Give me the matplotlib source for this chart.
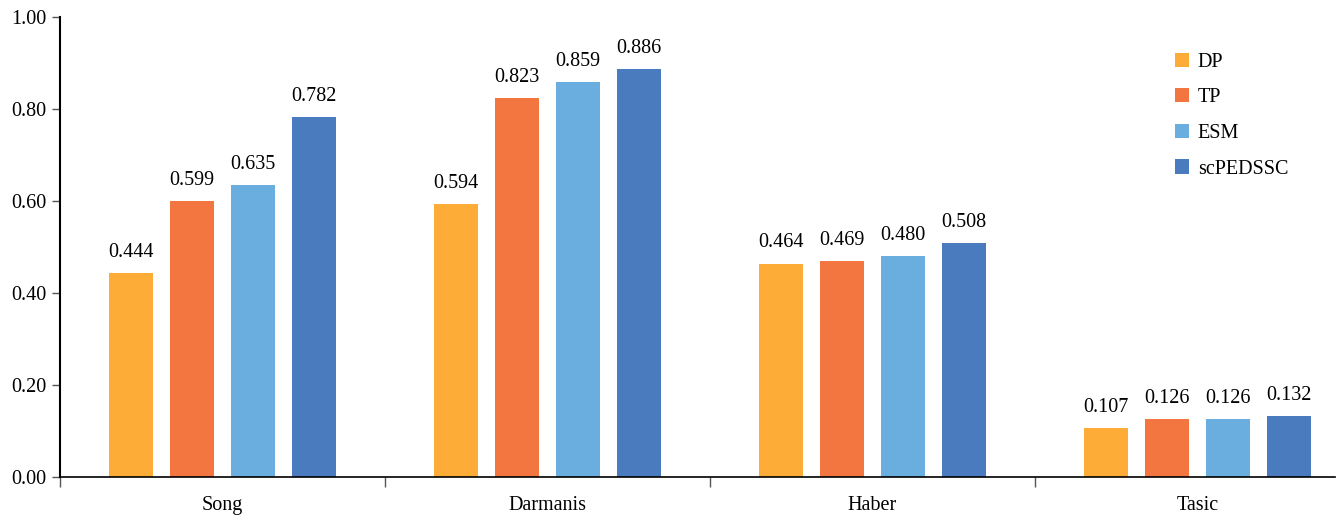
import matplotlib
matplotlib.use("Agg")
import matplotlib.pyplot as plt
import numpy as np
from matplotlib.ticker import FormatStrFormatter

datasets = ["Song", "Darmanis", "Haber", "Tasic"]
methods = ["DP", "TP", "ESM", "scPEDSSC"]
dp = [0.444, 0.594, 0.464, 0.107]
tp = [0.599, 0.823, 0.469, 0.126]
esm = [0.635, 0.859, 0.480, 0.126]
scpedssc = [0.782, 0.886, 0.508, 0.132]
colors = ["#FDAD37", "#F37540", "#6AAEDF", "#4A7BBF"]

plt.rcParams["font.family"] = ["Liberation Serif", "DejaVu Serif"]
FS = 14.5

fig = plt.figure(figsize=(13.4, 5.15), dpi=100)
ax = fig.add_axes([60 / 1340, 38 / 515, 1275 / 1340, 460 / 515])

x = np.arange(len(datasets))
step, width = 0.188, 0.135
for i, (name, vals) in enumerate(zip(methods, [dp, tp, esm, scpedssc])):
    pos = x + (i - 1.5) * step
    bars = ax.bar(pos, vals, width, color=colors[i], label=name)
    ax.bar_label(bars, labels=[f"{v:.3f}" for v in vals], padding=8, fontsize=FS)

ax.set_xlim(-0.5, 3.423)
ax.set_ylim(0, 1.0)
ax.set_yticks(np.arange(0, 1.01, 0.2))
ax.yaxis.set_major_formatter(FormatStrFormatter("%.2f"))
ax.set_xticks(x)
ax.set_xticklabels(datasets)
ax.tick_params(axis="x", length=0, labelsize=FS, pad=14)
ax.tick_params(axis="y", labelsize=FS, length=6, width=1, color="#555555")
# separators between dataset groups
ax.set_xticks(np.arange(-0.5, 3.5, 1.0), minor=True)
ax.tick_params(axis="x", which="minor", length=7, width=1, color="#555555")

for s in ("top", "right"):
    ax.spines[s].set_visible(False)
ax.spines["left"].set_linewidth(1.5)
ax.spines["bottom"].set_linewidth(1.2)

ax.legend(loc="upper left", bbox_to_anchor=(0.860, 0.962), frameon=False,
          fontsize=FS, handlelength=0.7, handleheight=0.7,
          labelspacing=0.82, handletextpad=0.45)

fig.savefig("out.png", dpi=100)
